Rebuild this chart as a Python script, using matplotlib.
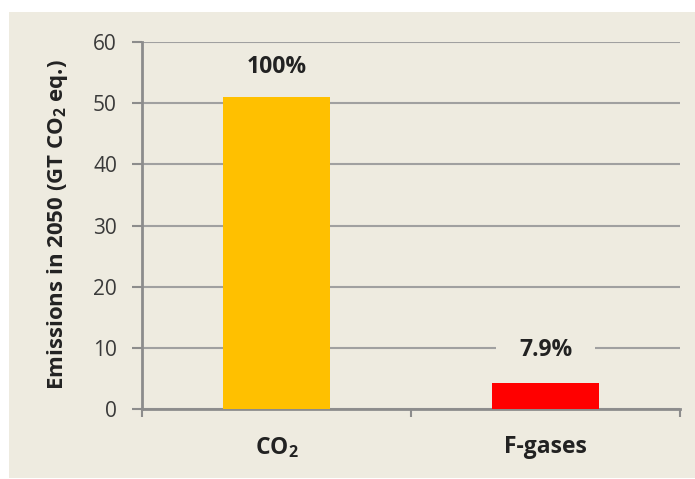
import matplotlib
matplotlib.use("Agg")
import matplotlib.pyplot as plt
from matplotlib.patches import Rectangle

categories = [r"CO$_\mathbf{2}$", "F-gases"]
values = [51.0, 4.2]
pct_labels = ["100%", "7.9%"]
colors = ["#FFC000", "#FF0000"]
yticks = [0, 10, 20, 30, 40, 50, 60]

plt.rcParams['font.family'] = ['Open Sans', 'DejaVu Sans']
plt.rcParams['mathtext.fontset'] = 'custom'
plt.rcParams['mathtext.rm'] = 'Open Sans'
plt.rcParams['mathtext.bf'] = 'Open Sans:bold'

bg = "#EEEBE0"
W, H = 695, 479
fig = plt.figure(figsize=(W/100, H/100), dpi=100, facecolor="white")
fig.patches.append(Rectangle((9/W, 1/H), 1, (H-13)/H, transform=fig.transFigure,
                             facecolor=bg, edgecolor="none", zorder=-10))

ax = fig.add_axes([142/W, (H-409)/H, (680-142)/W, (409-42)/H])
ax.set_facecolor("none")
xs = [0.5 + i for i in range(len(values))]
ax.bar(xs, values, width=0.4, color=colors, zorder=3)
ax.set_xlim(0, 2)
ax.set_ylim(0, 60)
ax.set_yticks(yticks)
ax.yaxis.grid(True, color="#A0A0A0", linewidth=1.5, zorder=0)
ax.set_axisbelow(True)

for s in ["top", "right"]:
    ax.spines[s].set_visible(False)
for s in ["left", "bottom"]:
    ax.spines[s].set_color("#8C8C8C")
    ax.spines[s].set_linewidth(2)

ax.tick_params(axis="y", direction="out", length=7, width=1.5, color="#8C8C8C",
               labelsize=15, labelcolor="#3A3A3A", pad=11)
ax.set_xticks(xs)
ax.set_xticklabels(categories, fontsize=16.5, fontweight="bold", color="#222222")
ax.tick_params(axis="x", which="major", length=0, pad=19)
ax.set_xticks([0, 1, 2], minor=True)
ax.tick_params(axis="x", which="minor", direction="out", length=6, width=1.5, color="#8C8C8C")

fig.text(58/W, (H-225)/H, r"Emissions in 2050 (GT CO$_\mathbf{2}$ eq.)", fontsize=16,
         fontweight="bold", color="#222222", rotation=90, ha="center", va="center")

label_y = [55.9, 9.65]
gap_label = [False, True]
texts = []
for x, y, t in zip(xs, label_y, pct_labels):
    texts.append(ax.text(x, y, t, ha="center", va="center", fontsize=16.5,
                         fontweight="bold", color="#222222", zorder=5))

fig.canvas.draw()
inv = ax.transAxes.inverted()
for txt, g in zip(texts, gap_label):
    if not g:
        continue
    bb = txt.get_window_extent()
    (x0, y0), (x1, y1) = inv.transform([(bb.x0 - 23, bb.y0 - 2), (bb.x1 + 23, bb.y1 + 2)])
    ax.add_patch(Rectangle((x0, y0), x1 - x0, y1 - y0, transform=ax.transAxes,
                           facecolor=bg, edgecolor="none", zorder=4, clip_on=False))

fig.savefig("out.png", dpi=100, facecolor="white")
